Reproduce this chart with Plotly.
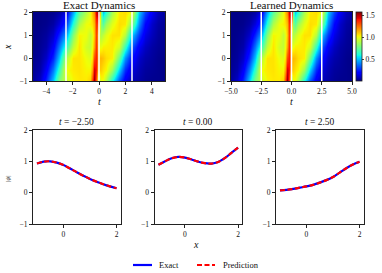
import numpy as np
import plotly.graph_objects as go

# ---------------- data ----------------
T_GRID = [-5, -4.5, -4, -3.5, -3, -2.5, -2, -1.5, -1, -0.7, -0.5, -0.35, -0.2, -0.05, 0,
          0.15, 0.3, 0.5, 1, 1.5, 2, 2.5, 3, 3.5, 4, 4.5, 5]
X_GRID = [-1, -0.5, 0, 0.5, 1, 1.5, 2]

# |psi|(x, t), one row per x value in X_GRID, columns follow T_GRID
U_EXACT = [
    [0.04, 0.10, 0.25, 0.50, 0.80, 0.93, 1.02, 1.04, 1.04, 1.08, 1.30, 1.55, 1.30, 0.95, 0.89,
     1.00, 1.00, 0.88, 0.60, 0.32, 0.15, 0.07, 0.05, 0.03, 0.02, 0.02, 0.01],
    [0.03, 0.06, 0.17, 0.38, 0.65, 1.00, 1.04, 1.05, 1.02, 1.02, 1.15, 1.45, 1.40, 1.10, 1.10,
     1.08, 1.05, 1.02, 0.85, 0.52, 0.26, 0.12, 0.07, 0.04, 0.03, 0.02, 0.01],
    [0.02, 0.04, 0.10, 0.25, 0.50, 0.88, 1.05, 1.05, 1.00, 0.97, 1.05, 1.30, 1.38, 1.18, 1.12,
     1.12, 1.10, 1.06, 1.03, 0.75, 0.42, 0.20, 0.10, 0.06, 0.04, 0.02, 0.01],
    [0.01, 0.03, 0.06, 0.17, 0.38, 0.65, 0.92, 1.05, 0.95, 0.92, 1.00, 1.15, 1.35, 1.15, 0.99,
     1.00, 1.03, 1.03, 1.04, 0.95, 0.65, 0.32, 0.16, 0.09, 0.05, 0.03, 0.02],
    [0.01, 0.02, 0.04, 0.10, 0.25, 0.44, 0.80, 1.02, 1.00, 0.92, 0.97, 1.10, 1.32, 1.15, 0.93,
     0.88, 0.92, 0.98, 1.05, 1.05, 0.90, 0.50, 0.28, 0.14, 0.08, 0.04, 0.02],
    [0.01, 0.01, 0.02, 0.05, 0.13, 0.27, 0.62, 0.88, 1.00, 1.02, 1.05, 1.12, 1.35, 1.30, 1.10,
     0.80, 0.72, 0.85, 0.98, 1.06, 1.04, 0.78, 0.40, 0.20, 0.10, 0.05, 0.03],
    [0.01, 0.01, 0.01, 0.02, 0.05, 0.14, 0.45, 0.72, 0.88, 0.98, 1.10, 1.20, 1.45, 1.52, 1.44,
     0.75, 0.50, 0.62, 0.87, 1.04, 1.06, 0.99, 0.50, 0.30, 0.16, 0.08, 0.04],
]
U_LEARNED = U_EXACT

T_SLICES = [-2.5, 0.0, 2.5]
X_LINE = [-1, -0.75, -0.5, -0.25, 0, 0.25, 0.5, 0.75, 1, 1.25, 1.5, 1.75, 2]
EXACT_SLICES = [
    [0.93, 0.99, 1.00, 0.96, 0.88, 0.77, 0.65, 0.54, 0.44, 0.35, 0.27, 0.20, 0.14],
    [0.89, 1.00, 1.10, 1.14, 1.12, 1.06, 0.99, 0.94, 0.93, 0.98, 1.10, 1.27, 1.44],
    [0.07, 0.09, 0.12, 0.16, 0.20, 0.25, 0.32, 0.40, 0.50, 0.64, 0.78, 0.90, 0.99],
]
PRED_SLICES = EXACT_SLICES

HEAT_TICKS_1 = [-4, -2, 0, 2, 4]
HEAT_TICKS_2 = [-5.0, -2.5, 0.0, 2.5, 5.0]
Y_TICKS = [-1, 0, 1, 2]
CB_TICKS = [0.5, 1.0, 1.5]
LEGEND_NAMES = ["Exact", "Prediction"]

# ---------------- styling helpers ----------------
W, H = 382, 273
FONT = "Liberation Serif"
MINUS = "\u2212"
BLUE, RED = "#0000ff", "#ff0000"
DASH = "5px,2.5px"


def fmt(v, nd=0):
    s = f"{abs(v):.{nd}f}"
    return (MINUS + s) if v < 0 else s


def px_x(a, b):
    return [a / W, b / W]


def px_y(top, bottom):
    return [1 - bottom / H, 1 - top / H]


# matplotlib 'jet'
_r = [(0, 0), (0.35, 0), (0.66, 1), (0.89, 1), (1, 0.5)]
_g = [(0, 0), (0.125, 0), (0.375, 1), (0.64, 1), (0.91, 0), (1, 0)]
_b = [(0, 0.5), (0.11, 1), (0.34, 1), (0.65, 0), (1, 0)]
stops = sorted(set([p for p, _ in _r + _g + _b]))
def _ch(seg, p):
    return np.interp(p, [s[0] for s in seg], [s[1] for s in seg])
JET = [[p, "rgb(%d,%d,%d)" % (round(255 * _ch(_r, p)), round(255 * _ch(_g, p)),
                               round(255 * _ch(_b, p)))] for p in stops]

ZMIN, ZMAX = 0.0, 1.57

fig = go.Figure()

fig.add_trace(go.Heatmap(x=T_GRID, y=X_GRID, z=U_EXACT, colorscale=JET,
                         zmin=ZMIN, zmax=ZMAX, zsmooth="best", showscale=False,
                         xaxis="x", yaxis="y"))
fig.add_trace(go.Heatmap(x=T_GRID, y=X_GRID, z=U_LEARNED, colorscale=JET,
                         zmin=ZMIN, zmax=ZMAX, zsmooth="best", showscale=True,
                         xaxis="x2", yaxis="y2",
                         colorbar=dict(x=356 / W, xanchor="left", xpad=0, ypad=0,
                                       y=1 - 81 / H, yanchor="bottom",
                                       len=69 / H, lenmode="fraction",
                                       thickness=6, thicknessmode="pixels",
                                       outlinecolor="#222", outlinewidth=0.8,
                                       tickvals=CB_TICKS,
                                       ticktext=[fmt(v, 1) for v in CB_TICKS],
                                       ticks="outside", ticklen=2, tickwidth=0.6,
                                       tickfont=dict(family=FONT, size=7.5, color="#111"))))

for i, (ts, ex, pr) in enumerate(zip(T_SLICES, EXACT_SLICES, PRED_SLICES)):
    xa = "x%d" % (i + 3)
    ya = "y%d" % (i + 3)
    fig.add_trace(go.Scatter(x=X_LINE, y=ex, mode="lines",
                             line=dict(color=BLUE, width=2.2, shape="spline"),
                             name=LEGEND_NAMES[0], showlegend=False, xaxis=xa, yaxis=ya))
    fig.add_trace(go.Scatter(x=X_LINE, y=pr, mode="lines",
                             line=dict(color=RED, width=2.2, dash=DASH, shape="spline"),
                             name=LEGEND_NAMES[1], showlegend=False, xaxis=xa, yaxis=ya))

axis_common = dict(showline=True, linecolor="#222", linewidth=0.8, mirror=True,
                   ticks="outside", ticklen=3, tickwidth=0.7, tickcolor="#222",
                   showgrid=False, zeroline=False, automargin=False,
                   tickfont=dict(family=FONT, size=7.5, color="#111"))

layout = dict(width=W, height=H,
              margin=dict(l=0, r=0, t=0, b=0, pad=0, autoexpand=False),
              paper_bgcolor="white", plot_bgcolor="white", showlegend=False)

layout["xaxis"] = dict(axis_common, domain=px_x(33, 165), range=[-5, 5], anchor="y",
                       tickvals=HEAT_TICKS_1, ticktext=[fmt(v) for v in HEAT_TICKS_1])
layout["yaxis"] = dict(axis_common, domain=px_y(12, 81), range=[-1, 2], anchor="x",
                       tickvals=Y_TICKS, ticktext=[fmt(v) for v in Y_TICKS])
layout["xaxis2"] = dict(axis_common, domain=px_x(231, 352), range=[-5, 5], anchor="y2",
                        tickvals=HEAT_TICKS_2, ticktext=[fmt(v, 1) for v in HEAT_TICKS_2])
layout["yaxis2"] = dict(axis_common, domain=px_y(12, 81), range=[-1, 2], anchor="x2",
                        tickvals=Y_TICKS, ticktext=[fmt(v) for v in Y_TICKS])
bx = [(33, 120.5), (154.5, 242), (276, 363.5)]
for i, (a, b) in enumerate(bx):
    n = i + 3
    layout["xaxis%d" % n] = dict(axis_common, domain=px_x(a, b), range=[-1.15, 2.15],
                                 anchor="y%d" % n, tickvals=[0, 2], ticktext=["0", "2"])
    layout["yaxis%d" % n] = dict(axis_common, domain=px_y(130, 224), range=[-1, 2],
                                 anchor="x%d" % n, tickvals=Y_TICKS,
                                 ticktext=[fmt(v) for v in Y_TICKS])

shapes = []
for xr, yr in [("x", "y"), ("x2", "y2")]:
    for ts in T_SLICES:
        shapes.append(dict(type="line", xref=xr, yref=yr + " domain", x0=ts, x1=ts,
                           y0=0, y1=1, line=dict(color="white", width=1.5)))

# legend (drawn manually to match compact matplotlib handles)
LEG_Y = 265
for (x0, x1), col, dash in [((133, 152), BLUE, "solid"), ((197, 215), RED, DASH)]:
    shapes.append(dict(type="line", xref="paper", yref="paper", x0=x0 / W, x1=x1 / W,
                       y0=1 - LEG_Y / H, y1=1 - LEG_Y / H,
                       line=dict(color=col, width=2.2, dash=dash)))
layout["shapes"] = shapes

ann = []
def text(x, y, s, size=10, rot=0, xanchor="center", yanchor="middle"):
    ann.append(dict(x=x / W, y=1 - y / H, xref="paper", yref="paper", text=s,
                    showarrow=False, textangle=rot, xanchor=xanchor, yanchor=yanchor,
                    font=dict(family=FONT, size=size, color="#111")))

text(99, 5, "Exact Dynamics", size=11)
text(291.5, 5, "Learned Dynamics", size=11)
text(99, 101, "<i>t</i>", size=10)
text(291.5, 101, "<i>t</i>", size=10)
text(7, 47, "<i>x</i>", size=10, rot=-90)
for (a, b), ts in zip(bx, T_SLICES):
    text((a + b) / 2, 122, "<i>t</i> = " + fmt(ts, 2), size=9.5)
text(196, 244, "<i>x</i>", size=10)
text(7, 178, "|<i>ψ</i>|", size=6.5, rot=-90)
text(157, LEG_Y, LEGEND_NAMES[0], size=8.5, xanchor="left")
text(221, LEG_Y, LEGEND_NAMES[1], size=8.5, xanchor="left")
layout["annotations"] = ann

fig.update_layout(**layout)
fig.write_html("out.html", config={"displayModeBar": False},
               post_script="document.body.style.margin='0';document.body.style.padding='0';")
